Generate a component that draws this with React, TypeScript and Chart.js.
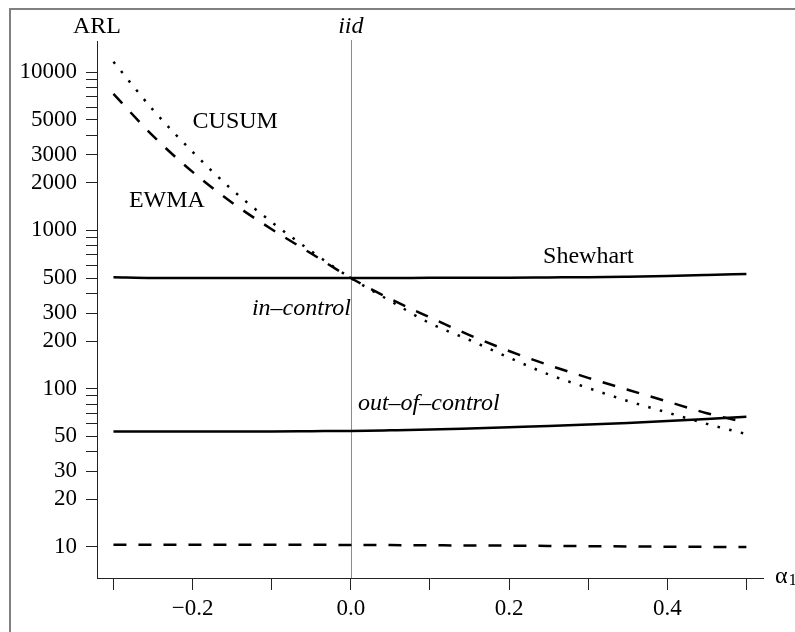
import React, { useEffect, useRef } from 'react';
import { Chart, registerables } from 'chart.js';

Chart.register(...registerables);

// ---- data ----
const alpha1 = [-0.3, -0.25, -0.2, -0.15, -0.1, -0.05, 0, 0.05, 0.1, 0.15, 0.2, 0.25, 0.3, 0.35, 0.4, 0.45, 0.5];

const shewhartInControl = [505, 500, 500, 500, 500, 500, 500, 500, 501, 501, 502, 504, 506, 510, 515, 522, 530];
const shewhartOutOfControl = [53.6, 53.6, 53.6, 53.6, 53.7, 53.9, 54.1, 54.6, 55.2, 56.1, 57.1, 58.1, 59.3, 60.7, 62.5, 64.3, 66.5];
const ewmaInControl = [7270, 3950, 2340, 1495, 1016, 714, 500, 369, 282, 218, 173, 141, 117, 98.5, 83, 70, 61];
const ewmaOutOfControl = [10.35, 10.35, 10.35, 10.35, 10.35, 10.33, 10.3, 10.28, 10.25, 10.22, 10.2, 10.16, 10.12, 10.08, 10.05, 10.02, 10.0];
const cusumInControl = [11600, 5770, 3130, 1805, 1128, 738, 500, 358, 259, 203, 157, 123, 101, 83.6, 70.7, 59.9, 51.7];

const xTickValues = [-0.3, -0.2, -0.1, 0, 0.1, 0.2, 0.3, 0.4, 0.5];
const xTickLabels = ['', '\u22120.2', '', '0.0', '', '0.2', '', '0.4', ''];

const yTickValues = [10, 20, 30, 40, 50, 60, 70, 80, 90, 100, 200, 300, 400, 500, 600, 700, 800, 900, 1000, 2000, 3000, 4000, 5000, 6000, 7000, 8000, 9000, 10000];
const yTickLabels = ['10', '20', '30', '', '50', '', '', '', '', '100', '200', '300', '', '500', '', '', '', '', '1000', '2000', '3000', '', '5000', '', '', '', '', '10000'];

const X_MIN = -0.3208;
const X_MAX = 0.521;
const Y_MIN = 6.37;
const Y_MAX = 15700;

// text annotations, anchored in data coordinates
const annotations = [
  { text: 'CUSUM', x: -0.2, y: 4440, italic: false },
  { text: 'EWMA', x: -0.2804, y: 1406, italic: false },
  { text: 'Shewhart', x: 0.243, y: 622, italic: false },
  { text: 'in\u2013control', x: -0.125, y: 290, italic: true },
  { text: 'out\u2013of\u2013control', x: 0.009, y: 73.5, italic: true },
];

const FAMILY = "'Liberation Serif', 'Times New Roman', serif";

const toPoints = (ys: number[]) => alpha1.map((a, i) => ({ x: a, y: ys[i] }));

const decorPlugin = {
  id: 'decor',
  beforeDraw(chart: any) {
    const { ctx } = chart;
    ctx.save();
    ctx.fillStyle = '#ffffff';
    ctx.fillRect(0, 0, chart.width, chart.height);
    ctx.strokeStyle = '#808080';
    ctx.lineWidth = 2;
    ctx.beginPath();
    ctx.moveTo(10, chart.height);
    ctx.lineTo(10, 9);
    ctx.lineTo(chart.width, 9);
    ctx.stroke();
    ctx.restore();
  },
  beforeDatasetsDraw(chart: any) {
    const { ctx, chartArea } = chart;
    const x0 = Math.round(chart.scales.x.getPixelForValue(0)) + 0.5;
    ctx.save();
    ctx.strokeStyle = '#8c8c8c';
    ctx.lineWidth = 1;
    ctx.beginPath();
    ctx.moveTo(x0, chartArea.top - 1);
    ctx.lineTo(x0, chartArea.bottom);
    ctx.stroke();
    ctx.restore();
  },
  afterDraw(chart: any) {
    const { ctx, chartArea } = chart;
    const xs = chart.scales.x;
    const ys = chart.scales.y;
    ctx.save();
    ctx.fillStyle = '#000';
    ctx.textBaseline = 'alphabetic';
    ctx.textAlign = 'left';
    for (const a of annotations) {
      ctx.font = `${a.italic ? 'italic ' : ''}24px ${FAMILY}`;
      ctx.fillText(a.text, xs.getPixelForValue(a.x), ys.getPixelForValue(a.y));
    }
    // axis titles
    ctx.textAlign = 'center';
    ctx.font = `24px ${FAMILY}`;
    ctx.fillText('ARL', chartArea.left, chartArea.top - 8);
    ctx.font = `italic 24px ${FAMILY}`;
    ctx.fillText('iid', xs.getPixelForValue(0), chartArea.top - 8);
    ctx.textAlign = 'left';
    ctx.font = `24px ${FAMILY}`;
    const ax = chartArea.right + 12;
    ctx.fillText('\u03b1', ax, chartArea.bottom + 5);
    const w = ctx.measureText('\u03b1').width;
    ctx.font = `17px ${FAMILY}`;
    ctx.fillText('1', ax + w + 1, chartArea.bottom + 7);
    ctx.restore();
  },
};

export default function App() {
  const ref = useRef<HTMLCanvasElement>(null);
  useEffect(() => {
    const common = { pointRadius: 0, borderColor: '#000', fill: false, cubicInterpolationMode: 'monotone' as const, borderCapStyle: 'butt' as const };
    const chart = new Chart(ref.current!, {
      type: 'line',
      data: {
        datasets: [
          { ...common, label: 'Shewhart in-control', data: toPoints(shewhartInControl), borderWidth: 2.5 },
          { ...common, label: 'Shewhart out-of-control', data: toPoints(shewhartOutOfControl), borderWidth: 2.5 },
          { ...common, label: 'EWMA in-control', data: toPoints(ewmaInControl), borderWidth: 2.5, borderDash: [13, 12] },
          { ...common, label: 'EWMA out-of-control', data: toPoints(ewmaOutOfControl), borderWidth: 2.5, borderDash: [13, 12] },
          { ...common, label: 'CUSUM in-control', data: toPoints(cusumInControl), borderWidth: 2.5, borderDash: [2.5, 9.5] },
        ],
      },
      options: {
        animation: false,
        responsive: false,
        devicePixelRatio: 1,
        parsing: false as any,
        layout: { padding: { left: 0, right: 32, top: 41, bottom: 0 } },
        plugins: { legend: { display: false }, tooltip: { enabled: false } },
        scales: {
          x: {
            type: 'linear',
            min: X_MIN,
            max: X_MAX,
            afterBuildTicks: (s: any) => { s.ticks = xTickValues.map((v) => ({ value: v })); },
            afterFit: (s: any) => { s.height = 54; },
            ticks: {
              autoSkip: false,
              maxRotation: 0,
              padding: 5,
              color: '#000',
              font: { family: FAMILY, size: 23 },
              callback: (_v: any, i: number) => xTickLabels[i],
            },
            grid: { drawOnChartArea: false, drawTicks: true, tickLength: 12, color: '#222', lineWidth: 1 },
            border: { display: true, color: '#222', width: 1 },
          },
          y: {
            type: 'logarithmic',
            min: Y_MIN,
            max: Y_MAX,
            afterBuildTicks: (s: any) => { s.ticks = yTickValues.map((v) => ({ value: v })); },
            afterFit: (s: any) => { s.width = 97; },
            ticks: {
              autoSkip: false,
              padding: 9,
              color: '#000',
              font: { family: FAMILY, size: 23 },
              callback: (_v: any, i: number) => yTickLabels[i],
            },
            grid: { drawOnChartArea: false, drawTicks: true, tickLength: 11, color: '#222', lineWidth: 1 },
            border: { display: true, color: '#222', width: 1 },
          },
        },
      },
      plugins: [decorPlugin],
    } as any);
    return () => chart.destroy();
  }, []);
  return (
    <div style={{ position: 'fixed', left: 0, top: 0, width: 795, height: 632, background: '#fff' }}>
      <canvas ref={ref} width={795} height={632} style={{ display: 'block', width: 795, height: 632 }} />
    </div>
  );
}
